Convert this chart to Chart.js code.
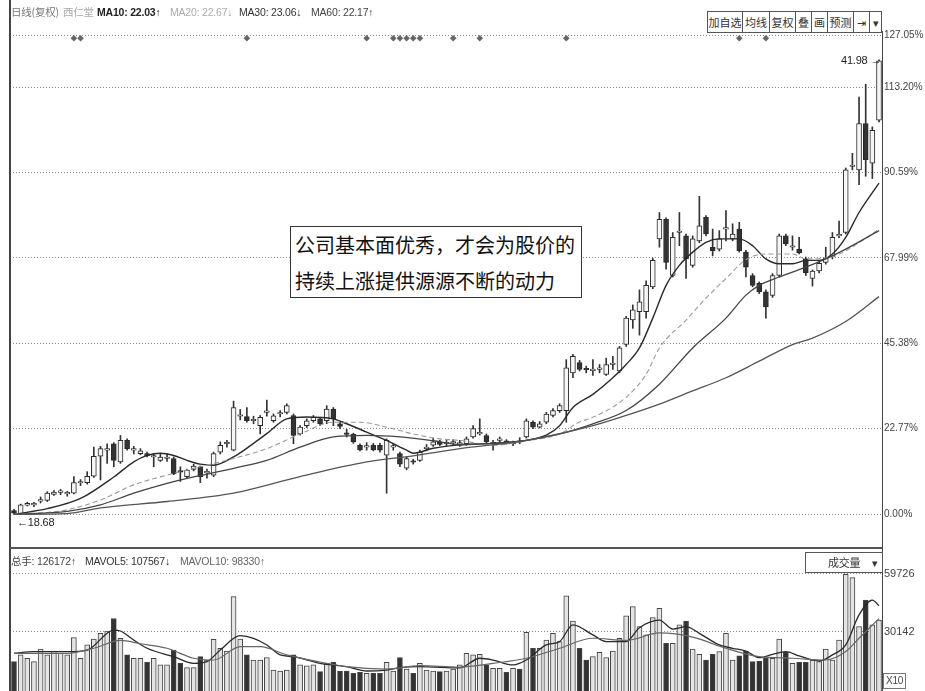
<!DOCTYPE html>
<html>
<head>
<meta charset="utf-8">
<script src="https://cdn.jsdelivr.net/npm/chart.js@4.4.0/dist/chart.umd.min.js"></script>
<style>
  body { margin: 0; background: #fff; }
  #wrap { position: relative; width: 925px; height: 691px; overflow: hidden; background: #fff;
          font-family: "Liberation Sans", Arial, "Noto Sans CJK SC", sans-serif; color: #333; }
  canvas { position: absolute; left: 0; }
  #priceChart { top: 0; }
  #volChart { top: 548px; }
  .t { position: absolute; white-space: nowrap; font-size: 10.5px; line-height: 12px; letter-spacing: -0.2px; }
  .cjk { font-family: "Noto Sans CJK SC", sans-serif; }
  #btns { position: absolute; left: 707px; top: 11px; height: 20px; display: flex;
          border: 1px solid #555; border-right: none; background: #fff; }
  #btns span { border-right: 1px solid #555; font: 11px/20px "Noto Sans CJK SC", sans-serif;
               text-align: center; color: #333; white-space: nowrap; overflow: hidden; }
  #note { position: absolute; left: 290px; top: 226px; width: 282px; height: 70px; padding: 0 4px;
          border: 1px solid #333; font: 20px/36px "Noto Sans CJK SC", sans-serif; color: #111; background: #fff; }
  .line { position: absolute; background: #444; }
</style>
</head>
<body>
<div id="wrap">
  <canvas id="priceChart" width="925" height="548"></canvas>
  <canvas id="volChart" width="925" height="143"></canvas>

  <div class="line" style="left:9px;top:0;width:2px;height:691px"></div>
  <div class="line" style="left:10px;top:547px;width:873px;height:2px;background:#555"></div>
  <div class="line" style="left:882px;top:31px;width:1px;height:660px"></div>

  <div class="t cjk" style="left:11px;top:6px;color:#777">日线(复权)</div>
  <div class="t cjk" style="left:63px;top:6px;color:#aaa">西仁堂</div>
  <div class="t" style="left:97px;top:6px;color:#222;font-weight:bold">MA10: 22.03↑</div>
  <div class="t" style="left:170px;top:6px;color:#aaa">MA20: 22.67↓</div>
  <div class="t" style="left:239px;top:6px;color:#333">MA30: 23.06↓</div>
  <div class="t" style="left:311px;top:6px;color:#444">MA60: 22.17↑</div>

  <div id="btns">
    <span style="width:34px">加自选</span><span style="width:26px">均线</span><span style="width:25px">复权</span><span style="width:15px">叠</span><span style="width:15px">画</span><span style="width:25px">预测</span><span style="width:15px">⇥</span><span style="width:11px">▾</span>
  </div>

  <div class="t" style="left:841px;top:54px;font-size:11px;color:#222">41.98 →</div>
  <div class="t" style="left:17px;top:516px;font-size:11px;color:#222">←18.68</div>

  <div id="note">公司基本面优秀，才会为股价的<br>持续上涨提供源源不断的动力</div>

  <div class="t" style="left:11px;top:555px;color:#444"><span class="cjk">总手</span>: 126172↑</div>
  <div class="t" style="left:85px;top:555px;color:#333">MAVOL5: 107567↓</div>
  <div class="t" style="left:180px;top:555px;color:#666">MAVOL10: 98330↑</div>
  <div class="t cjk" style="left:805px;top:552px;width:76px;height:19px;border:1px solid #555;background:#fff;line-height:19px;font-size:11px">
    <span style="position:absolute;left:22px">成交量</span><span style="position:absolute;left:66px">▾</span>
  </div>
  <div class="t" style="left:883px;top:673px;border:1px solid #777;padding:1px 2px;font-size:10px;color:#444">X10</div>
</div>

<script>
// daily candles, values in % above the 18.68 base
const opens = [1.0,0.2,2.4,2.5,3.5,3.7,5.3,5.8,5.4,5.6,8.3,8.4,10.1,15.4,17.0,18.7,13.9,19.6,17.0,16.1,
  16.1,15.2,14.3,14.8,14.8,11.3,10.0,11.9,12.6,11.0,10.4,16.5,18.7,17.0,26.0,25.9,24.8,23.5,27.0,24.8,
  26.6,27.0,26.2,21.3,23.5,24.8,25.3,24.8,27.9,24.0,21.3,21.2,18.3,17.8,18.3,18.3,15.7,17.8,16.1,12.2,
  13.9,14.3,17.4,18.3,19.2,18.7,18.9,18.3,18.7,20.5,21.3,20.9,18.7,19.6,19.2,18.7,19.2,20.5,24.4,23.1,
  24.4,26.2,27.5,27.5,37.5,40.2,38.4,38.1,38.4,37.1,39.7,38.0,45.0,51.5,53.7,53.7,60.3,73.0,78.2,63.3,
  74.7,73.8,66.0,72.5,78.7,70.8,70.3,75.6,73.0,75.6,69.5,63.3,61.2,59.0,58.0,63.3,73.8,70.8,70.3,67.7,
  62.5,64.5,66.8,68.2,73.8,74.7,92.2,91.3,103.6,93.1,104.5];
const highs = [1.3,2.7,3.2,3.2,4.6,6.0,6.3,6.6,6.1,10.0,9.2,11.3,17.8,18.0,18.7,19.0,20.9,20.0,18.0,17.4,
  16.5,16.0,16.0,16.0,15.2,12.6,12.0,13.3,12.8,12.0,16.5,19.2,19.6,30.0,27.8,28.3,26.0,26.2,30.3,26.6,
  27.5,29.3,26.6,23.5,25.3,26.2,25.7,28.8,28.3,24.4,22.5,21.5,18.7,19.0,18.8,18.8,20.0,18.8,16.5,15.2,
  14.6,17.0,18.5,20.2,19.6,19.6,19.8,19.6,20.5,23.5,25.3,21.3,19.6,20.5,19.8,19.4,20.3,25.3,24.8,24.6,
  27.0,28.0,29.3,41.0,42.4,40.8,39.3,41.0,39.7,41.4,41.9,44.5,52.5,55.5,59.5,61.9,67.9,80.0,78.6,74.7,
  80.0,74.3,73.8,84.3,79.2,75.6,75.2,80.5,77.0,77.4,70.0,63.8,61.6,59.5,63.8,74.3,74.3,73.8,73.4,68.2,
  64.8,67.0,70.8,74.7,77.7,91.8,95.7,110.6,114.0,102.7,120.5];
const lows = [0.0,0.0,2.2,2.0,3.0,3.4,5.0,5.2,4.8,5.4,7.6,8.0,9.8,9.1,13.5,12.6,13.5,17.0,16.0,15.8,
  15.2,12.6,14.0,14.0,10.5,8.7,9.6,11.5,8.4,9.6,10.0,16.0,17.8,16.8,25.0,24.4,24.0,21.3,26.0,24.4,
  25.8,26.6,18.7,21.0,23.0,24.4,23.5,24.0,23.5,22.7,20.5,18.8,16.8,17.0,16.8,16.5,5.6,17.0,12.6,11.8,
  13.3,14.0,16.8,18.0,18.2,18.2,18.4,18.0,18.3,20.2,21.0,18.8,17.0,19.0,18.6,18.2,18.7,20.2,22.7,22.9,
  24.0,25.8,27.0,24.4,36.2,38.0,37.5,36.8,37.5,36.8,38.4,37.5,44.5,49.3,47.5,52.0,59.8,70.8,65.0,62.9,
  71.2,62.5,65.5,72.0,73.8,68.5,69.8,72.5,72.5,69.5,62.9,60.3,58.5,52.0,57.5,62.9,71.2,70.0,69.0,63.3,
  60.5,64.0,66.3,67.7,73.3,74.3,91.3,87.4,89.6,89.0,104.0];
const closes = [0.3,2.5,2.9,2.6,3.8,5.6,5.9,5.9,5.5,8.4,8.4,10.1,15.4,17.4,17.2,14.3,19.6,17.4,17.1,16.8,
  15.5,15.3,15.2,14.9,10.8,11.2,11.7,12.8,10.0,11.1,16.1,18.3,18.8,28.3,26.1,24.8,24.9,25.7,27.1,26.1,
  26.7,28.8,20.9,23.1,24.8,25.7,24.0,27.9,25.3,23.3,21.2,19.2,17.1,17.9,17.1,17.0,19.6,17.9,13.3,14.8,
  13.8,16.5,17.5,19.2,18.5,18.8,19.0,19.0,20.0,22.7,21.4,19.2,18.8,19.7,19.1,18.8,19.1,24.8,23.1,24.0,
  26.6,27.5,28.8,38.8,41.9,38.4,38.3,38.2,38.5,39.7,39.8,44.1,52.0,54.2,56.3,60.7,67.3,78.2,66.8,73.4,
  74.8,67.7,73.0,76.5,74.3,69.9,73.0,75.7,74.3,69.9,65.5,60.7,59.0,55.0,63.3,73.8,71.7,70.9,69.3,64.0,
  64.5,66.5,68.0,73.4,73.9,91.3,92.3,103.6,94.0,101.8,120.2];

// volume (x10)
const volumes = [15000,18400,16700,15000,21400,18400,20400,19200,18400,27200,
  16700,23500,26500,29400,30600,37000,26900,18400,16700,16700,
  14600,16700,13300,13300,20900,14100,11900,11900,17500,15800,
  26400,21800,20400,48100,26500,18400,15800,15800,17000,10700,
  10200,10700,18400,13300,12900,13300,9900,14100,14600,10200,
  10200,9000,9500,9000,9000,9000,14600,10200,17000,11200,
  9000,14100,10700,10200,9900,10200,11200,13300,19200,18400,
  18700,13300,11600,11600,9500,11600,11200,29900,21800,21800,
  26000,29400,25200,48600,35700,21800,15800,17500,19700,17000,
  20400,26900,38400,43000,32800,28600,37400,42200,24300,24300,
  33700,35700,21400,18700,15800,18700,20100,29400,15800,18000,
  20400,15000,15300,16700,16700,26500,19700,14100,14600,14600,
  15800,15000,21400,15800,26000,59500,57800,32800,46400,33700,36200];

// moving averages at sample days
const ma10Day = [0,5,10,15,18,20,22,24,26,28,30,33,36,38,41,44,48,50,53,56,59,60,63,67,72,77,80,82,84,87,90,92,94,96,98,100,102,104,106,109,111,113,115,117,119,121,123,125,127,130];
const ma10Val = [0,1.5,4.2,9.9,13.9,15.6,16.2,15.6,14.3,13.3,13.0,15.2,18.8,21.4,25.3,25.8,25.3,24.0,21.8,19.6,17.0,16.2,17.5,18.4,18.8,19.6,21.0,23.5,28.3,31.8,36.2,39.7,44.1,52.0,60.7,66.0,69.5,72.1,73.0,73.0,71.2,67.7,66.4,66.4,67.3,67.3,69.0,73.4,80.0,87.8];
const ma20Day = [0,5,8,13,18,23,28,33,38,43,48,52,56,60,64,67,72,77,82,85,87,92,95,97,101,104,107,110,113,117,119,123,127,130];
const ma20Val = [0,0.5,1.2,3.8,7.8,10.4,12.6,14.8,17.4,21.3,24.4,24.4,23.1,21.3,20.0,19.6,18.3,19.5,21.3,24.5,25.7,31.0,37.1,44.1,51.5,57.3,62.5,67.5,69.0,69.0,67.7,68.3,72.0,75.6];
const ma30Day = [0,8,13,18,23,26,33,38,43,48,53,58,63,67,72,77,82,87,92,97,102,107,110,112,115,119,122,125,130];
const ma30Val = [0,0.8,2.5,5.6,8.2,9.5,12.2,14.3,17.8,20.5,20.9,20.5,19.5,18.5,18.8,19.6,21.3,24.0,27.5,34.5,44.1,52.0,58.1,60.7,62.9,65.5,67.7,70.3,75.2];
const ma60Day = [0,8,13,23,33,43,53,60,67,77,87,92,97,102,107,112,117,120,125,130];
const ma60Val = [0,0.2,1.7,3.4,5.6,10.0,13.9,15.5,17.4,19.6,23.5,26.2,29.2,32.7,36.2,40.6,45.0,46.7,51.1,57.7];

const mavol5Day = [0,3,8,11,15,16,18,20,24,27,29,31,34,36,38,40,42,46,50,53,56,58,61,67,70,72,75,77,80,82,84,87,89,92,94,97,99,101,103,106,108,110,112,114,116,118,121,123,125,127,129,130];
const mavol5Val = [19200,20100,20100,20900,31100,30600,26000,21800,17500,14100,15000,20900,28200,26900,23500,18400,17500,14100,12400,10200,10700,11900,12400,11800,16700,15800,13300,15800,23500,25200,33700,28600,25200,25200,32300,36200,31600,32800,29400,23500,21800,20400,17000,18700,20100,17900,15300,18400,23500,38800,46400,43500];
const mavol10Day = [0,8,12,16,19,23,27,30,34,37,41,46,50,56,61,67,72,77,82,87,92,97,102,107,112,117,122,125,127,130];
const mavol10Val = [19200,19200,21800,25800,24100,21800,16700,15800,22600,22600,18400,14800,12400,11200,12900,12200,14100,16700,21800,26900,25800,29600,27500,21800,17500,16700,15800,20100,26900,36900];

// info markers along the top
const markerDay = [9,10,35,53,57,58,59,60,61,66,70,83,109,113];
const markerLevel = 126.2;

const priceTicks = [0, 22.77, 45.38, 67.99, 90.59, 113.20, 127.05];
const volTicks = [30142, 59726];

Chart.defaults.font.family = '"Liberation Sans", Arial, sans-serif';
Chart.defaults.font.size = 11;

const isUp = opens.map((o, i) => closes[i] >= o);
const pts = (days, vals) => days.map((d, k) => ({ x: d, y: vals[k] }));
const axisFont = { family: '"Liberation Sans", Arial', size: 10 };

const xScale = { type: 'linear', min: -0.6, max: 130.45, offset: false, display: false };

function maLine(days, vals, color, dash, width) {
  return {
    type: 'line', data: pts(days, vals), borderColor: color, borderWidth: width,
    borderDash: dash, pointRadius: 0, cubicInterpolationMode: 'monotone', order: 0, clip: false
  };
}

new Chart(document.getElementById('priceChart'), {
  type: 'bar',
  data: {
    datasets: [
      {
        label: 'wick',
        data: lows.map((l, i) => ({ x: i, y: [l, highs[i]] })),
        backgroundColor: '#333', barThickness: 1, grouped: false, order: 2
      },
      {
        label: 'body',
        data: opens.map((o, i) => ({ x: i, y: [o, closes[i]] })),
        backgroundColor: isUp.map(u => u ? '#f6f6f6' : '#333'),
        borderColor: '#2a2a2a', borderWidth: 1, borderSkipped: false,
        barThickness: 5, minBarLength: 1.5, grouped: false, order: 1
      },
      maLine(ma60Day, ma60Val, '#555', [], 1.3),
      maLine(ma30Day, ma30Val, '#444', [], 1.3),
      maLine(ma20Day, ma20Val, '#9a9a9a', [5, 3], 1.1),
      maLine(ma10Day, ma10Val, '#2a2a2a', [], 1.4),
      {
        type: 'line', data: markerDay.map(d => ({ x: d, y: markerLevel })), showLine: false,
        pointStyle: 'rectRot', pointRadius: 3.3, pointBackgroundColor: '#666', pointBorderWidth: 0,
        order: 0, clip: false
      }
    ]
  },
  options: {
    responsive: false, animation: false,
    layout: { padding: { left: 10, top: 35, right: 0, bottom: 0 } },
    plugins: { legend: { display: false }, tooltip: { enabled: false } },
    scales: {
      x: xScale,
      y: {
        position: 'right', min: -7.87, max: 127.05,
        afterBuildTicks: s => { s.ticks = priceTicks.map(v => ({ value: v })); },
        afterFit: s => { s.width = 43; s.paddingTop = 0; s.paddingBottom = 0; },
        ticks: { callback: v => v.toFixed(2) + '%', padding: 2, color: '#444', font: axisFont },
        grid: { color: '#8a8a8a', drawTicks: false, lineWidth: 1 },
        border: { dash: [1, 2], color: '#444', width: 1 }
      }
    }
  }
});

new Chart(document.getElementById('volChart'), {
  type: 'bar',
  data: {
    datasets: [
      {
        label: 'vol',
        data: volumes.map((v, i) => ({ x: i, y: v })),
        backgroundColor: isUp.map(u => u ? '#e4e4e4' : '#333'),
        borderColor: '#444', borderWidth: 1, barThickness: 5, grouped: false, order: 1
      },
      maLine(mavol10Day, mavol10Val, '#666', [], 1.2),
      maLine(mavol5Day, mavol5Val, '#2a2a2a', [], 1.3)
    ]
  },
  options: {
    responsive: false, animation: false,
    layout: { padding: { left: 10, top: 5, right: 0, bottom: 0 } },
    plugins: { legend: { display: false }, tooltip: { enabled: false } },
    scales: {
      x: xScale,
      y: {
        position: 'right', min: 0, max: 70390,
        afterBuildTicks: s => { s.ticks = volTicks.map(v => ({ value: v })); },
        afterFit: s => { s.width = 43; s.paddingTop = 0; s.paddingBottom = 0; },
        ticks: { callback: v => String(v), padding: 2, color: '#444', font: { family: '"Liberation Sans", Arial', size: 11 } },
        grid: { color: '#8a8a8a', drawTicks: false, lineWidth: 1 },
        border: { dash: [1, 2], color: '#444', width: 1 }
      }
    }
  }
});
</script>
</body>
</html>
